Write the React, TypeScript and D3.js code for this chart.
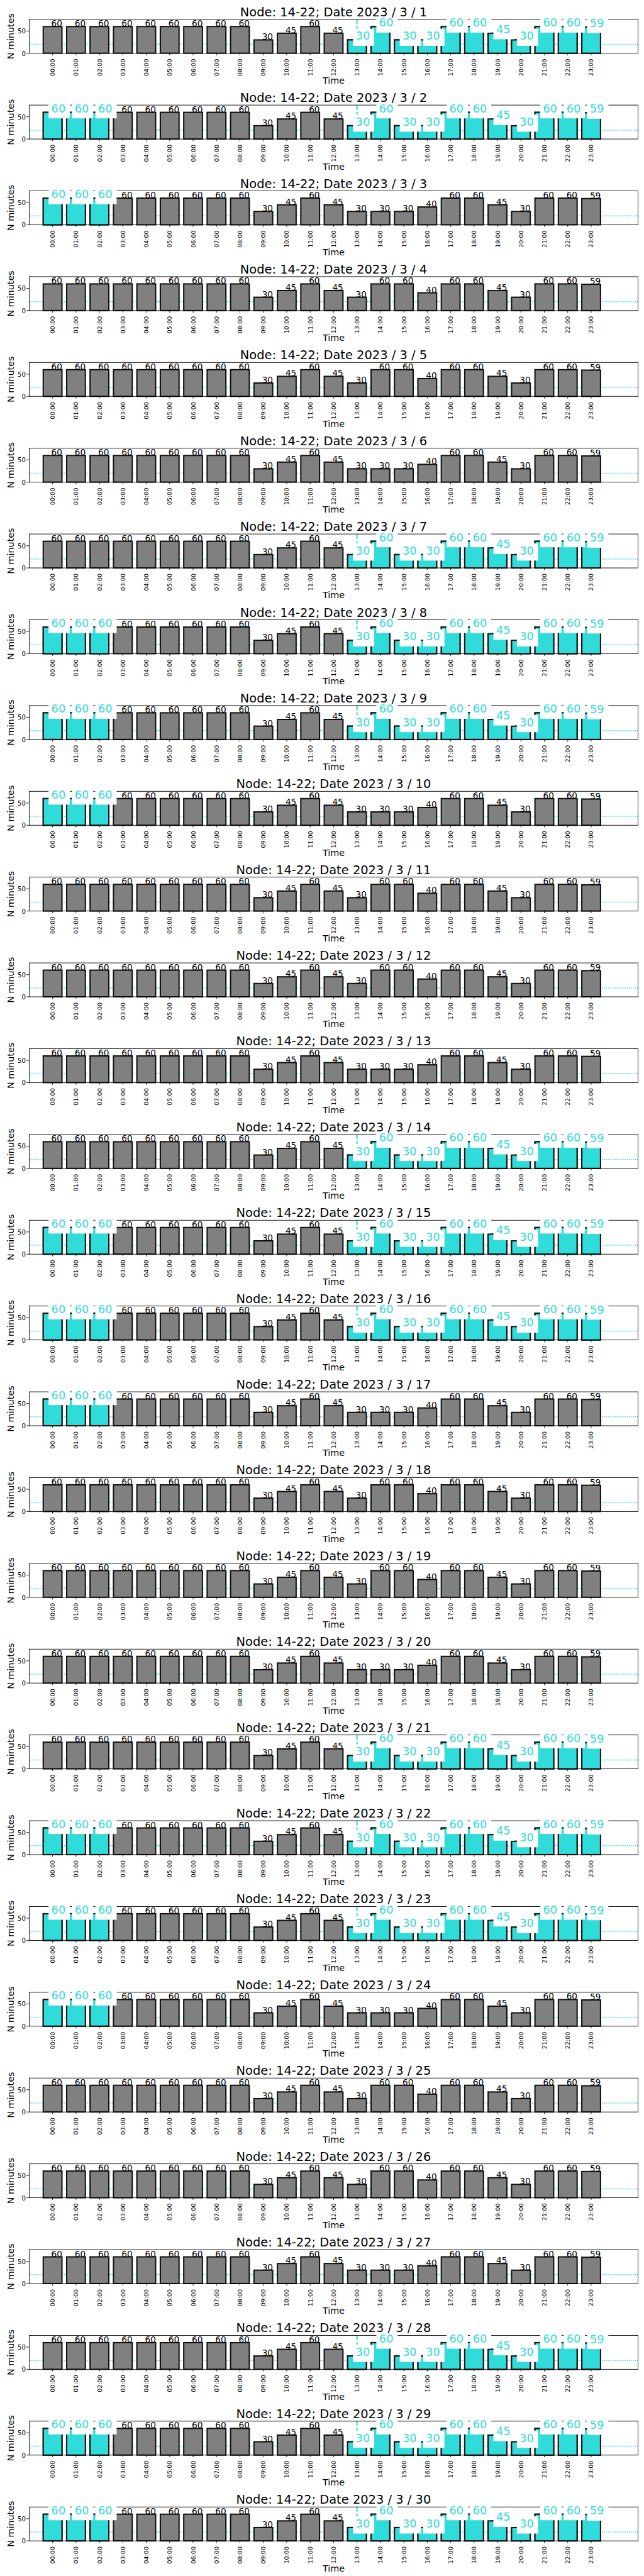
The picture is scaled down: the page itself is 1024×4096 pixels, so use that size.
import * as d3 from "d3";

// hour categories on the x axis
const HOURS = [
  "00:00", "01:00", "02:00", "03:00", "04:00", "05:00", "06:00", "07:00",
  "08:00", "09:00", "10:00", "11:00", "12:00", "13:00", "14:00", "15:00",
  "16:00", "17:00", "18:00", "19:00", "20:00", "21:00", "22:00", "23:00",
];

// minutes per hour, three day profiles
const MINUTES_TUE_THU = [60, 60, 60, 60, 60, 60, 60, 60, 60, 30, 45, 60, 45, 30, 60, 30, 30, 60, 60, 45, 30, 60, 60, 59];
const MINUTES_FRI_MON = [60, 60, 60, 60, 60, 60, 60, 60, 60, 30, 45, 60, 45, 30, 30, 30, 40, 60, 60, 45, 30, 60, 60, 59];
const MINUTES_SAT_SUN = [60, 60, 60, 60, 60, 60, 60, 60, 60, 30, 45, 60, 45, 30, 60, 60, 40, 60, 60, 45, 30, 60, 60, 59];

const DAYS = [1, 2, 3, 4, 5, 6, 7, 8, 9, 10, 11, 12, 13, 14, 15, 16, 17, 18, 19, 20, 21, 22, 23, 24, 25, 26, 27, 28, 29, 30];
const DAY_PROFILE = [
  "A", "A", "B", "C", "C", "B", "A", "A", "A", "B",
  "C", "C", "B", "A", "A", "A", "B", "C", "C", "B",
  "A", "A", "A", "B", "C", "C", "B", "A", "A", "A",
];
// highlighted hours: E = early (00-02), L = late (13-23)
const DAY_HIGHLIGHT = [
  "L", "EL", "E", "", "", "", "L", "EL", "EL", "E",
  "", "", "", "L", "EL", "EL", "E", "", "", "",
  "L", "EL", "EL", "E", "", "", "", "L", "EL", "EL",
];
const EARLY_HOURS = [0, 1, 2];
const LATE_HOURS = [13, 14, 15, 16, 17, 18, 19, 20, 21, 22, 23];

const Y_TICKS = [0, 50];
const THRESHOLD = 20;

const PROFILES: Record<string, number[]> = {
  A: MINUTES_TUE_THU,
  B: MINUTES_FRI_MON,
  C: MINUTES_SAT_SUN,
};

const CYAN = "#2fdcd9";
const FONT = "DejaVu Sans";
const PITCH = 199.8;
const AX = { left: 68, right: 1486, top: 45, bottom: 124 };
const CX = (AX.left + AX.right) / 2;

const xScale = d3.scaleLinear().domain([-1, 25]).range([AX.left, AX.right]);
const yScale = d3.scaleLinear().domain([0, 76.3]).range([AX.bottom, AX.top]);
const barW = xScale(0.4) - xScale(-0.4);

const Panel = ({ index }: { index: number }) => {
  const values = PROFILES[DAY_PROFILE[index]];
  const hl = DAY_HIGHLIGHT[index];
  const cyanHours = [
    ...(hl.includes("E") ? EARLY_HOURS : []),
    ...(hl.includes("L") ? LATE_HOURS : []),
  ];

  return (
    <g transform={`translate(0, ${index * PITCH})`}>
      <line
        x1={AX.left} x2={AX.right} y1={yScale(THRESHOLD)} y2={yScale(THRESHOLD)}
        stroke={CYAN} strokeWidth={2.2} strokeDasharray="2.2 2.6"
      />
      {hl.includes("L") && (
        <line
          x1={xScale(LATE_HOURS[0])} x2={xScale(LATE_HOURS[0])} y1={AX.top} y2={AX.bottom}
          stroke={CYAN} strokeWidth={3} strokeDasharray="11 4.8"
        />
      )}
      {values.map((v, i) => (
        <rect
          key={`g${i}`}
          x={xScale(i) - barW / 2} y={yScale(v)} width={barW} height={yScale(0) - yScale(v)}
          fill="#808080" stroke="#111" strokeWidth={3}
        />
      ))}
      {cyanHours.map((h) => (
        <rect
          key={`c${h}`}
          x={xScale(h) - barW / 2} y={yScale(values[h])} width={barW} height={yScale(0) - yScale(values[h])}
          fill={CYAN} stroke="#111" strokeWidth={3}
        />
      ))}
      <rect
        x={AX.left} y={AX.top} width={AX.right - AX.left} height={AX.bottom - AX.top}
        fill="none" stroke="#000" strokeWidth={1.3}
      />
      {Y_TICKS.map((t) => (
        <g key={`yt${t}`}>
          <line x1={AX.left - 6} x2={AX.left} y1={yScale(t)} y2={yScale(t)} stroke="#000" strokeWidth={1.3} />
          <text x={60} y={yScale(t)} textAnchor="end" dominantBaseline="central" fontSize={15} fontFamily={FONT}>
            {t}
          </text>
        </g>
      ))}
      {HOURS.map((h, i) => (
        <g key={`xt${i}`}>
          <line x1={xScale(i)} x2={xScale(i)} y1={AX.bottom} y2={AX.bottom + 5} stroke="#000" strokeWidth={1.3} />
          <text
            transform={`translate(${xScale(i)}, 137) rotate(-90)`}
            textAnchor="end" dominantBaseline="central" fontSize={14} fontFamily={FONT}
          >
            {h}
          </text>
        </g>
      ))}
      <text x={CX} y={195} textAnchor="middle" fontSize={21} fontFamily={FONT}>Time</text>
      <text
        transform={`translate(31.5, ${(AX.top + AX.bottom) / 2}) rotate(-90)`}
        textAnchor="middle" fontSize={21} fontFamily={FONT}
      >
        N minutes
      </text>
      {values.map((v, i) => (
        <text key={`l${i}`} x={xScale(i) - 3} y={yScale(v)} fontSize={20} fontFamily={FONT} fill="#000">
          {v}
        </text>
      ))}
      {cyanHours.map((h) => {
        const v = values[h];
        const ox = xScale(h) - 3;
        const oy = yScale(v);
        const w = String(v).length * 0.636 * 26;
        return (
          <g key={`cl${h}`}>
            <rect x={ox - 6.5} y={oy - 26} width={w + 16.5} height={40} fill="#fff" />
            <text x={ox} y={oy} fontSize={26} fontFamily={FONT} fill={CYAN}>
              {v}
            </text>
          </g>
        );
      })}
      <text x={CX} y={37.7} textAnchor="middle" fontSize={28.5} fontFamily={FONT}>
        {`Node: 14-22; Date 2023 / 3 / ${DAYS[index]}`}
      </text>
    </g>
  );
};

const App = () => {
  return (
    <div style={{ position: "absolute", left: 0, top: 0, background: "#fff" }}>
      <svg width={1024} height={4096} viewBox="0 0 1500 6000" style={{ display: "block" }}>
        <rect width={1500} height={6000} fill="#fff" />
        {DAYS.map((d, i) => (
          <Panel key={d} index={i} />
        ))}
      </svg>
    </div>
  );
};

export default App;
